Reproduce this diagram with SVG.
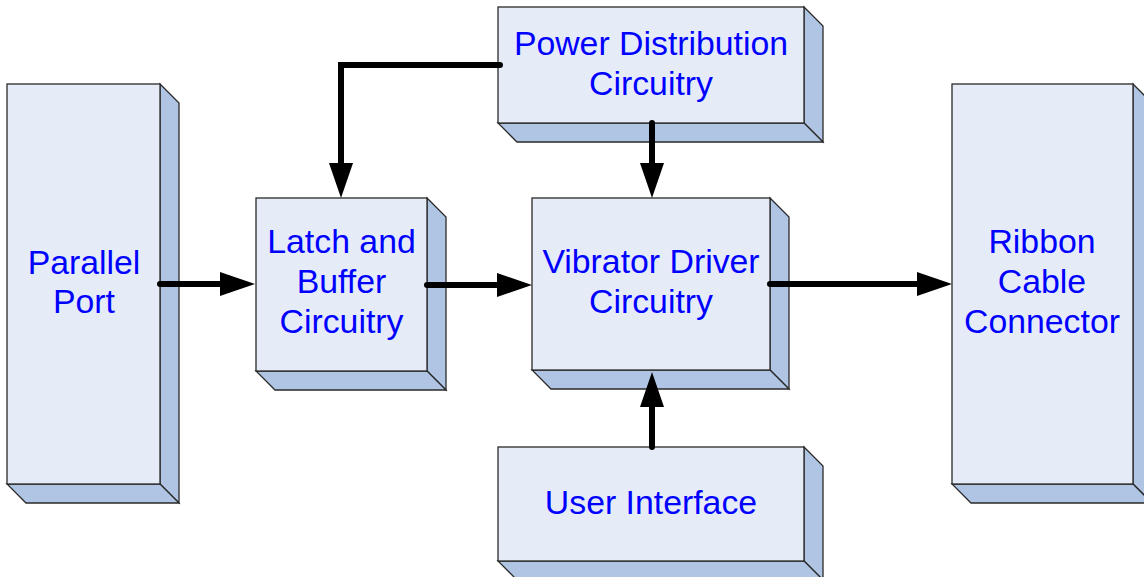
<svg xmlns="http://www.w3.org/2000/svg" width="1144" height="577" viewBox="0 0 1144 577">
  <style>
    .face { fill: #E5ECF7; stroke: #2A2A2A; stroke-width: 1.3; }
    .side { fill: #B0C5E3; stroke: #2A2A2A; stroke-width: 1.3; stroke-linejoin: miter; }
    .label { font-family: "Liberation Sans", Arial, sans-serif; font-size: 33.8px; fill: #0000FF; text-anchor: middle; }
    .wire { fill: none; stroke: #000; stroke-width: 6; stroke-linecap: round; stroke-linejoin: miter; }
  </style>
  <defs>
    <marker id="head" markerUnits="userSpaceOnUse" viewBox="0 0 35 24" markerWidth="35" markerHeight="24" refX="2" refY="12" orient="auto">
      <path d="M0,0 L35,12 L0,24 Z" fill="#000"/>
    </marker>
  </defs>

  <rect width="1144" height="577" fill="#FFFFFF"/>

  <!-- Parallel Port -->
  <g id="parallel-port">
    <polygon class="side" points="160,84 179,103 179,503 160,484"/>
    <polygon class="side" points="7,484 160,484 179,503 26,503"/>
    <rect class="face" x="7" y="84" width="153" height="400"/>
    <text class="label" x="84" y="274">Parallel</text>
    <text class="label" x="84" y="313">Port</text>
  </g>

  <!-- Latch and Buffer Circuitry -->
  <g id="latch-buffer">
    <polygon class="side" points="427,198 446,217 446,390 427,371"/>
    <polygon class="side" points="256,371 427,371 446,390 275,390"/>
    <rect class="face" x="256" y="198" width="171" height="173"/>
    <text class="label" x="341.5" y="253">Latch and</text>
    <text class="label" x="341.5" y="293">Buffer</text>
    <text class="label" x="341.5" y="333">Circuitry</text>
  </g>

  <!-- Power Distribution Circuitry -->
  <g id="power-distribution">
    <polygon class="side" points="804,7 823,26 823,142 804,123"/>
    <polygon class="side" points="498,123 804,123 823,142 517,142"/>
    <rect class="face" x="498" y="7" width="306" height="116"/>
    <text class="label" x="651" y="55">Power Distribution</text>
    <text class="label" x="651" y="95">Circuitry</text>
  </g>

  <!-- Vibrator Driver Circuitry -->
  <g id="vibrator-driver">
    <polygon class="side" points="770,198 789,217 789,389 770,370"/>
    <polygon class="side" points="532,370 770,370 789,389 551,389"/>
    <rect class="face" x="532" y="198" width="238" height="172"/>
    <text class="label" x="651" y="273">Vibrator Driver</text>
    <text class="label" x="651" y="313">Circuitry</text>
  </g>

  <!-- User Interface -->
  <g id="user-interface">
    <polygon class="side" points="804,447 823,466 823,580 804,561"/>
    <polygon class="side" points="498,561 804,561 823,580 517,580"/>
    <rect class="face" x="498" y="447" width="306" height="114"/>
    <text class="label" x="651" y="514">User Interface</text>
  </g>

  <!-- Ribbon Cable Connector -->
  <g id="ribbon-cable">
    <polygon class="side" points="1133,84 1152,103 1152,503 1133,484"/>
    <polygon class="side" points="952,484 1133,484 1152,503 971,503"/>
    <rect class="face" x="952" y="84" width="181" height="400"/>
    <text class="label" x="1042" y="253">Ribbon</text>
    <text class="label" x="1042" y="293">Cable</text>
    <text class="label" x="1042" y="333">Connector</text>
  </g>

  <!-- Signal and supply connections -->
  <g id="connectors">
    <path class="wire" d="M160,284 H222" marker-end="url(#head)"/>
    <path class="wire" d="M427,285 H499" marker-end="url(#head)"/>
    <path class="wire" d="M770,284 H919" marker-end="url(#head)"/>
    <path class="wire" d="M500,65 H341 V165" marker-end="url(#head)"/>
    <path class="wire" d="M652,123 V165" marker-end="url(#head)"/>
    <path class="wire" d="M652,447 V405" marker-end="url(#head)"/>
  </g>
</svg>
